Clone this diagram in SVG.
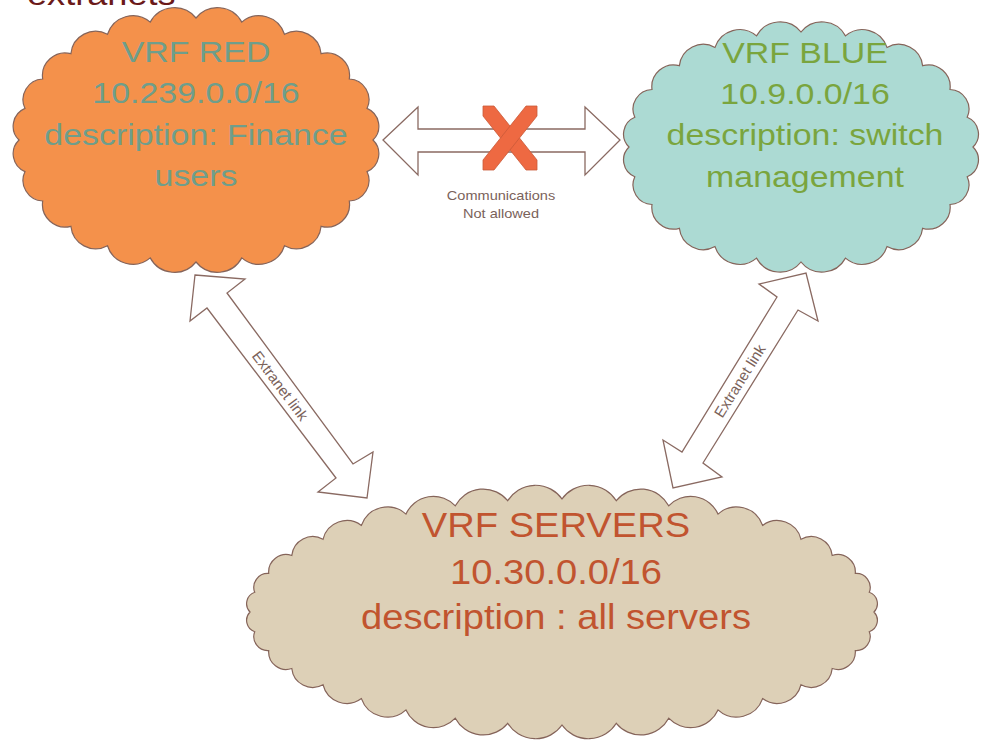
<svg xmlns="http://www.w3.org/2000/svg" width="983" height="743" viewBox="0 0 983 743">
<style>
.cloud{stroke:#85645A;stroke-width:1.2}
.arrow{fill:#ffffff;stroke:#8A6A62;stroke-width:1.3;stroke-linejoin:miter}
.lbl{font-family:"Liberation Sans",Arial,sans-serif;fill:#7A625A;text-anchor:middle}
.big{font-family:"Liberation Sans",Arial,sans-serif;text-anchor:middle;font-size:30px}
.xbar{fill:#EE6942;stroke:#C95A3A;stroke-width:0.8}
</style>
<rect x="0" y="0" width="983" height="743" fill="#ffffff"/>
<text x="0" y="4.5" transform="translate(27,0) scale(1.13,1)" font-family="'Liberation Sans',Arial,sans-serif" font-size="32" fill="#6B1A1A">extranets</text>
<g id="connectors">
<polygon class="arrow" points="383,140 418,107 418,129 585,129 585,107 620,140 585,175 585,152 418,152 418,175"/>
<polygon class="arrow" points="195,275 245,279 227,293 353,464 373,452 367,498 318,492 336,478 207,308 190,321"/>
<polygon class="arrow" points="806,273 818,321 798,310 703,463 722,477 673,488 663,440 682,452 777,297 759,284"/>
<polygon class="xbar" points="483,106 494,106 537,160 537,170 526,170 483,116"/>
<polygon class="xbar" points="537,106 526,106 483,160 483,170 494,170 537,116"/>
<g transform="translate(501,0) scale(1.12,1)">
<text class="lbl" x="0" y="200" font-size="13">Communications</text>
<text class="lbl" x="0" y="218" font-size="13">Not allowed</text>
</g>
<text class="lbl" font-size="15" transform="translate(280,386) rotate(53)" x="0" y="5">Extranet link</text>
<text class="lbl" font-size="15" transform="translate(740,381) rotate(-58)" x="0" y="5">Extranet link</text>
</g>
<g id="vrf-red">
<path class="cloud" fill="#F4914B" d="M373,140 A19.3,19.3 0 0 1 367,171.6 A20.6,20.6 0 0 1 349.3,201 A22.7,22.7 0 0 1 321.1,226.3 A24.8,24.8 0 0 1 284.5,245.7 A26.6,26.6 0 0 1 241.8,257.9 A27.6,27.6 0 0 1 196,262 A27.6,27.6 0 0 1 150.2,257.9 A26.6,26.6 0 0 1 107.5,245.7 A24.8,24.8 0 0 1 70.9,226.3 A22.7,22.7 0 0 1 42.7,201 A20.6,20.6 0 0 1 25,171.6 A19.3,19.3 0 0 1 19,140 A19.3,19.3 0 0 1 25,108.4 A20.6,20.6 0 0 1 42.7,79 A22.7,22.7 0 0 1 70.9,53.7 A24.8,24.8 0 0 1 107.5,34.3 A26.6,26.6 0 0 1 150.2,22.1 A27.6,27.6 0 0 1 196,18 A27.6,27.6 0 0 1 241.8,22.1 A26.6,26.6 0 0 1 284.5,34.3 A24.8,24.8 0 0 1 321.1,53.7 A22.7,22.7 0 0 1 349.3,79 A20.6,20.6 0 0 1 367,108.4 A19.3,19.3 0 0 1 373,140 Z"/>
<g transform="translate(196,0) scale(1.13,1)" fill="#6E9E8B">
<text class="big" x="0" y="62">VRF RED</text>
<text class="big" x="0" y="103">10.239.0.0/16</text>
<text class="big" x="0" y="145">description: Finance</text>
<text class="big" x="0" y="186">users</text>
</g>
</g>
<g id="vrf-blue">
<path class="cloud" fill="#ACDAD3" d="M973,147 A18.2,18.2 0 0 1 967.2,176.8 A19.6,19.6 0 0 1 950,204.5 A21.8,21.8 0 0 1 922.6,228.3 A24,24 0 0 1 887,246.6 A25.9,25.9 0 0 1 845.5,258.1 A26.8,26.8 0 0 1 801,262 A26.8,26.8 0 0 1 756.5,258.1 A25.9,25.9 0 0 1 715,246.6 A24,24 0 0 1 679.4,228.3 A21.8,21.8 0 0 1 652,204.5 A19.6,19.6 0 0 1 634.8,176.8 A18.2,18.2 0 0 1 629,147 A18.2,18.2 0 0 1 634.8,117.2 A19.6,19.6 0 0 1 652,89.5 A21.8,21.8 0 0 1 679.4,65.7 A24,24 0 0 1 715,47.4 A25.9,25.9 0 0 1 756.5,35.9 A26.8,26.8 0 0 1 801,32 A26.8,26.8 0 0 1 845.5,35.9 A25.9,25.9 0 0 1 887,47.4 A24,24 0 0 1 922.6,65.7 A21.8,21.8 0 0 1 950,89.5 A19.6,19.6 0 0 1 967.2,117.2 A18.2,18.2 0 0 1 973,147 Z"/>
<g transform="translate(805,0) scale(1.13,1)" fill="#7AA53E">
<text class="big" x="0" y="63">VRF BLUE</text>
<text class="big" x="0" y="104">10.9.0.0/16</text>
<text class="big" x="0" y="145">description: switch</text>
<text class="big" x="0" y="187">management</text>
</g>
</g>
<g id="vrf-servers">
<path class="cloud" fill="#DDD0B7" d="M874,612 A12,12 0 0 1 869.3,631.7 A14,14 0 0 1 855.3,650.6 A17.5,17.5 0 0 1 832.2,668.5 A21,21 0 0 1 801,684.7 A24.5,24.5 0 0 1 762.6,698.6 A27.6,27.6 0 0 1 718,709.9 A30,30 0 0 1 668.7,718.2 A31.6,31.6 0 0 1 616.3,723.3 A32.6,32.6 0 0 1 562,725 A32.6,32.6 0 0 1 507.7,723.3 A31.6,31.6 0 0 1 455.3,718.2 A30,30 0 0 1 406,709.9 A27.6,27.6 0 0 1 361.4,698.6 A24.5,24.5 0 0 1 323,684.7 A21,21 0 0 1 291.8,668.5 A17.5,17.5 0 0 1 268.7,650.6 A14,14 0 0 1 254.7,631.7 A12,12 0 0 1 250,612 A12,12 0 0 1 254.7,592.3 A14,14 0 0 1 268.7,573.4 A17.5,17.5 0 0 1 291.8,555.5 A21,21 0 0 1 323,539.3 A24.5,24.5 0 0 1 361.4,525.4 A27.6,27.6 0 0 1 406,514.1 A30,30 0 0 1 455.3,505.8 A31.6,31.6 0 0 1 507.7,500.7 A32.6,32.6 0 0 1 562,499 A32.6,32.6 0 0 1 616.3,500.7 A31.6,31.6 0 0 1 668.7,505.8 A30,30 0 0 1 718,514.1 A27.6,27.6 0 0 1 762.6,525.4 A24.5,24.5 0 0 1 801,539.3 A21,21 0 0 1 832.2,555.5 A17.5,17.5 0 0 1 855.3,573.4 A14,14 0 0 1 869.3,592.3 A12,12 0 0 1 874,612 Z"/>
<g transform="translate(556,0) scale(1.09,1)" fill="#C1542F">
<text class="big" style="font-size:35px" x="0" y="537">VRF SERVERS</text>
<text class="big" style="font-size:35px" x="0" y="584">10.30.0.0/16</text>
<text class="big" style="font-size:35px" x="0" y="629">description : all servers</text>
</g>
</g>
</svg>
